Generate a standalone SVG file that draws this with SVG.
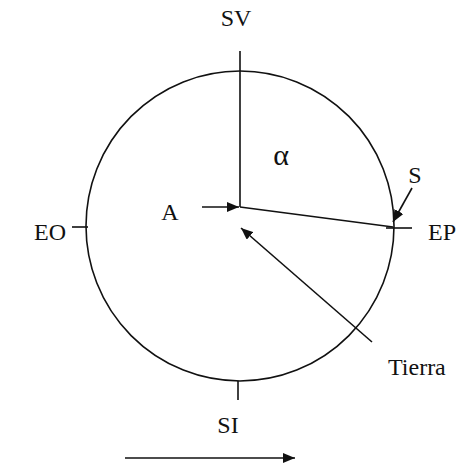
<svg xmlns="http://www.w3.org/2000/svg" width="456" height="467" viewBox="0 0 456 467">
<style>
.ln{stroke:#111;stroke-width:1.6;fill:none}
.t{font-family:"Liberation Serif","Times New Roman",serif;font-size:24px;fill:#111}
</style>
<defs>
<marker id="ah" viewBox="0 0 12 10" refX="12" refY="5" markerWidth="12" markerHeight="10" markerUnits="userSpaceOnUse" orient="auto">
<path d="M0,0 L12,5 L0,10 Z" fill="#111"/>
</marker>
</defs>
<rect width="456" height="467" fill="#fff"/>
<g id="circle"><ellipse class="ln" cx="240" cy="226" rx="154" ry="155"/></g>
<g id="connectors">
<line class="ln" x1="72" y1="227" x2="88" y2="227"/>
<line class="ln" x1="386" y1="228" x2="412" y2="228"/>
<line class="ln" x1="238" y1="381" x2="238" y2="400"/>
<line class="ln" x1="240" y1="51" x2="240" y2="207"/>
<line class="ln" x1="240" y1="207" x2="393" y2="227"/>
<line class="ln" x1="202" y1="207" x2="239" y2="207" marker-end="url(#ah)"/>
<line class="ln" x1="372" y1="342" x2="241" y2="228" marker-end="url(#ah)"/>
<line class="ln" x1="412" y1="188" x2="393" y2="222" marker-end="url(#ah)"/>
<line class="ln" x1="125" y1="458" x2="295" y2="458" marker-end="url(#ah)"/>
</g>
<g id="labels">
<text class="t" x="236" y="26" text-anchor="middle">SV</text>
<text class="t" x="281" y="165" text-anchor="middle" style="font-size:30px">α</text>
<text class="t" x="170" y="220" text-anchor="middle">A</text>
<text class="t" x="415" y="183" text-anchor="middle">S</text>
<text class="t" x="428" y="240">EP</text>
<text class="t" x="34" y="240">EO</text>
<text class="t" x="388" y="375">Tierra</text>
<text class="t" x="228" y="433" text-anchor="middle">SI</text>
</g>
</svg>
